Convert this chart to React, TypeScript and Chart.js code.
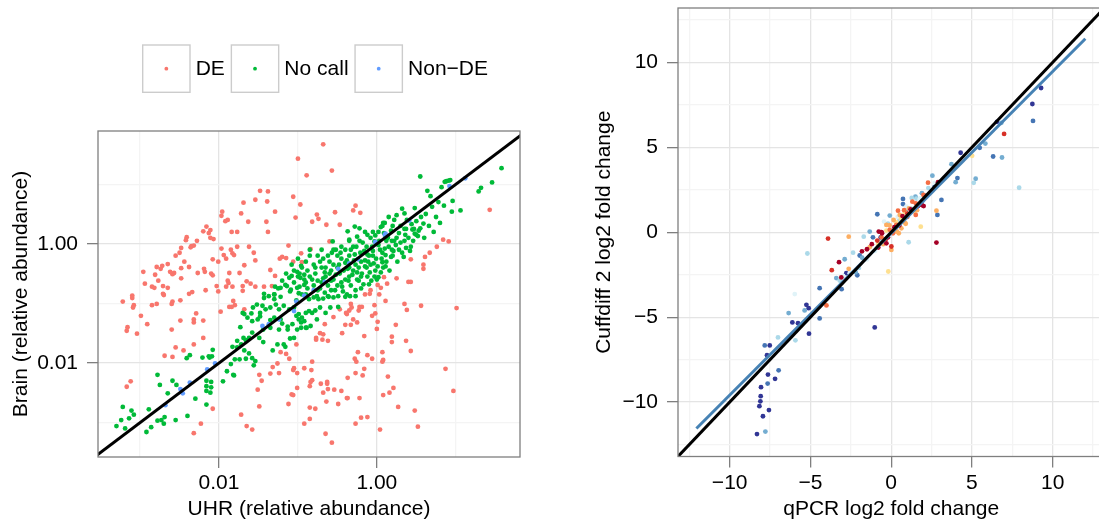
import React, { useEffect, useRef } from "react";
import { Chart, registerables } from "chart.js";

Chart.register(...registerables);

const FONT_FAMILY = "'Liberation Sans', Arial, Helvetica, sans-serif";
const TEXT_SIZE = 21;

// ---------------- Left panel: log10(relative abundance) pairs [UHR, Brain] ----------------
const leftSeriesLabels = ["DE", "No call", "Non\u2212DE"];
const leftSeriesColors = ["#F8766D", "#00BA38", "#619CFF"];

const deLog10: number[][] = [
  [-1.00,1.43],[-0.89,1.15],[-1.48,0.89],[-1.38,0.88],[-1.54,0.74],[-1.69,0.69],[-1.39,0.71],[-1.06,0.79],[-0.97,0.66],[-1.29,0.54],
  [-1.72,0.51],[-1.96,0.54],[-1.97,0.47],[-1.89,0.40],[-1.92,0.38],[-1.63,0.37],[-1.40,0.37],[-1.03,0.44],[-2.16,0.29],[-2.20,0.21],
  [-2.11,0.23],[-2.13,0.18],[-1.84,0.20],[-1.77,0.20],[-1.38,0.20],[-2.41,0.11],[-2.42,0.06],[-2.28,0.05],[-2.11,0.10],[-2.07,0.08],
  [-2.35,-0.04],[-2.32,-0.03],[-2.36,-0.06],[-2.48,-0.07],[-2.50,-0.15],[-2.55,-0.20],[-1.77,-0.05],[-1.62,-0.05],[-1.97,-0.08],[-1.85,-0.10],
  [-1.83,-0.16],[-1.94,-0.19],[-1.81,-0.19],[-1.91,-0.25],[-1.56,-0.15],[-1.54,-0.28],[-1.68,-0.36],[-2.08,-0.26],[-2.01,-0.30],[-1.12,-0.03],
  [-1.20,-0.22],[-1.23,-0.25],[-1.15,-0.24],[-1.06,-0.30],[-0.96,-0.16],[-0.95,-0.31],[-2.44,-0.30],[-2.48,-0.41],[-2.65,-0.34],[-2.72,-0.37],
  [-2.74,-0.42],[-2.79,-0.39],[-2.38,-0.39],[-2.27,-0.49],[-2.19,-0.42],[-2.18,-0.47],[-2.57,-0.49],[-2.59,-0.51],[-2.62,-0.47],[-2.10,-0.50],
  [-2.08,-0.53],[-1.87,-0.49],[-1.74,-0.49],[-2.96,-0.47],[-2.81,-0.52],[-2.77,-0.62],[-2.94,-0.67],[-2.85,-0.72],[-2.82,-0.74],[-2.71,-0.71],
  [-2.65,-0.74],[-2.48,-0.58],[-1.89,-0.62],[-1.88,-0.66],[-2.03,-0.71],[-1.91,-0.72],[-1.83,-0.72],[-1.70,-0.71],[-1.65,-0.63],[-1.60,-0.67],
  [-1.54,-0.72],[-1.43,-0.72],[-1.33,-0.71],[-2.17,-0.78],[-2.34,-0.81],[-2.38,-0.84],[-2.71,-0.84],[-2.01,-0.80],[-1.70,-0.79],[-3.10,-0.87],
  [-1.35,-0.44],[-1.29,-0.54],
  [-0.68,1.67],[-0.57,1.23],[-0.27,0.64],[-0.30,0.56],[-0.21,0.52],[-0.53,0.53],[-0.76,0.49],[-0.74,0.42],[-0.82,0.37],[-0.64,0.32],
  [-0.47,0.32],[-0.60,0.04],[-0.84,-0.09],[1.43,0.57],[0.84,0.07],[0.91,0.04],[0.76,-0.05],[0.67,-0.15],[0.61,-0.22],[0.43,-0.26],
  [0.59,-0.35],[0.59,-0.42],[0.25,-0.58],[0.09,-0.56],[0.01,-0.69],[0.13,-0.67],[0.05,-0.74],[0.40,-0.64],[0.43,-0.64],[-0.08,-0.78],
  [0.03,-0.85],[-0.15,-0.85],[-0.09,-0.84],
  [-3.22,-0.97],[-3.10,-0.91],[-3.08,-1.03],[-3.09,-1.07],[-2.85,-1.03],[-2.79,-1.01],[-2.70,-0.86],[-2.59,-0.97],[-2.60,-1.01],[-2.49,-0.95],
  [-2.99,-1.21],[-3.16,-1.40],[-3.17,-1.46],[-3.04,-1.51],[-2.91,-1.35],[-2.60,-1.44],[-2.49,-1.29],[-2.32,-1.27],[-2.32,-1.32],[-2.20,-1.29],
  [-2.29,-1.17],[-2.20,-1.58],[-2.32,-1.69],[-2.55,-1.74],[-2.45,-1.79],[-2.69,-1.88],[-2.59,-1.90],[-1.98,-1.14],[-1.82,-0.96],[-1.80,-1.03],
  [-1.87,-1.06],[-1.84,-1.06],[-1.68,-1.10],[-3.12,-2.31],[-3.17,-2.40],[-2.08,-2.77],[-2.23,-3.02],[-2.32,-3.18],[-1.72,-2.87],[-1.65,-3.06],
  [-1.58,-3.12],[-1.49,-2.73],[-1.51,-2.45],[-1.46,-2.30],[-1.49,-2.20],[-1.35,-2.18],[-1.32,-2.07],[-1.24,-2.17],[-1.26,-2.01],[-1.22,-1.82],
  [-1.15,-1.85],[-1.11,-1.93],[-1.05,-2.09],[-1.01,-2.17],[-1.06,-2.12],[-0.92,-2.09],[-1.02,-1.69],[-1.08,-2.53],[-1.06,-2.54],[-1.12,-2.69],
  [-1.01,-2.42],[-0.92,-3.02],
  [0.11,-0.96],[0.35,-1.01],[0.38,-1.11],[0.56,-1.04],[1.01,-1.08],[-0.03,-1.03],[-0.02,-1.17],[-0.06,-1.21],[-0.22,-1.06],[-0.19,-1.06],
  [-0.23,-1.12],[-0.33,-1.01],[-0.32,-1.07],[-0.35,-1.12],[-0.38,-1.18],[-0.39,-1.16],[-0.47,-1.10],[-0.55,-1.23],[-0.30,-1.27],[-0.25,-1.32],
  [-0.33,-1.36],[-0.40,-1.36],[-0.66,-1.35],[-0.44,-1.50],[0.01,-1.31],[0.00,-1.43],[0.24,-1.36],[-0.16,-1.55],[-0.72,-1.50],[-0.68,-1.52],
  [-0.77,-1.58],[-0.77,-1.61],[-0.69,-1.61],[-0.62,-1.63],[0.19,-1.56],[0.19,-1.65],[0.37,-1.63],[0.43,-1.80],[-0.24,-1.82],[-0.12,-1.87],
  [-0.06,-1.93],[-0.28,-1.93],[-0.26,-1.98],[0.07,-1.82],[0.08,-1.95],[0.07,-1.98],[-0.82,-1.98],[-0.83,-2.12],[-0.16,-2.10],[-0.27,-2.17],
  [-0.18,-2.21],[-0.37,-2.25],[0.14,-2.23],[-0.82,-2.29],[-0.84,-2.32],[-0.85,-2.39],[-0.71,-2.35],[-0.63,-2.32],[-0.63,-2.35],[-0.68,-2.50],
  [-0.62,-2.44],[-0.54,-2.45],[-0.45,-2.47],[-0.64,-2.65],[-0.49,-2.69],[-0.38,-2.59],[-0.37,-2.59],[-0.22,-2.59],[0.21,-2.42],[0.16,-2.50],
  [0.08,-2.54],[0.27,-2.74],[0.48,-2.80],[-0.85,-2.75],[-0.78,-2.77],[-0.85,-2.94],[-0.20,-2.92],[-0.12,-2.91],[-0.27,-3.02],[0.04,-3.12],
  [0.52,-3.07],[0.87,-2.10],[0.97,-2.47],[-0.65,-3.19],[-0.57,-3.34],
];

const noCallLog10: number[][] = [
  [1.58,1.27],[1.46,1.03],[1.32,0.94],[1.29,0.88],[0.91,1.06],[0.93,1.07],[0.88,1.05],[0.86,1.04],[0.55,1.13],[0.64,0.89],
  [0.96,0.72],[0.85,0.64],[1.06,0.56],[0.95,0.54],[0.32,0.59],[0.35,0.51],[0.08,0.35],[0.07,0.30],[0.59,0.34],[0.55,0.26],
  [0.47,0.25],[0.35,0.25],[0.37,0.25],[0.48,0.17],[0.52,0.13],[0.50,0.15],[0.45,0.24],[0.35,0.05],[0.19,0.05],[0.22,0.05],
  [0.37,-0.07],[0.43,-0.05],[0.34,-0.22],[-0.37,0.21],[-0.28,0.29],[-0.22,0.26],[-0.35,0.07],[-0.56,0.04],[-0.55,-0.10],[-0.02,0.14],
  [-0.03,0.04],[0.11,0.13],[0.19,-0.10],[0.21,-0.12],[0.11,-0.19],[0.07,-0.31],[0.11,-0.38],[0.02,-0.56],
  [-0.96,-0.37],[-1.01,-0.47],[-1.08,-0.54],[-1.11,-0.57],[-0.97,-0.57],[-0.92,-0.52],[-1.16,-0.69],[-1.14,-0.71],[-1.22,-0.74],[-1.29,-0.72],
  [-1.09,-0.77],[-1.01,-0.74],[-0.92,-0.69],[-0.99,-0.83],[-0.90,-0.85],[-1.43,-0.84],[-1.30,-0.85],
  [-0.90,-0.30],[-0.95,-0.40],[-1.00,-0.55],[-1.05,-0.65],[-0.98,-0.72],[-1.10,-0.80],[-1.20,-0.62],[-1.25,-0.75],[-1.30,-0.85],[-1.15,-0.50],
  [-0.92,-0.60],[-0.88,-0.45],[-0.85,-0.20],[-0.80,-0.35],[-0.78,-0.50],[-0.75,-0.62],[-0.72,-0.75],[-0.70,-0.40],[-0.68,-0.25],[-0.65,-0.55],
  [-0.62,-0.70],[-0.60,-0.30],[-0.58,-0.45],[-0.55,-0.60],[-0.53,-0.78],[-0.50,-0.20],[-0.48,-0.35],[-0.47,-0.50],[-0.45,-0.65],[-0.43,-0.80],
  [-0.40,-0.10],[-0.38,-0.28],[-0.37,-0.42],[-0.35,-0.55],[-0.33,-0.70],[-0.30,-0.05],[-0.28,-0.18],[-0.27,-0.35],[-0.25,-0.48],[-0.23,-0.62],
  [-0.20,-0.75],[-0.18,0.02],[-0.16,-0.12],[-0.15,-0.28],[-0.13,-0.40],[-0.12,-0.55],[-0.10,-0.68],[-0.08,0.10],[-0.06,-0.05],[-0.05,-0.20],
  [-0.04,-0.33],[-0.02,-0.45],[0.00,-0.60],[0.02,0.20],[0.04,-0.10],[0.06,-0.25],[0.08,-0.40],[0.12,0.05],[0.15,-0.05],[0.18,0.22],
  [0.20,-0.20],[0.25,0.10],[0.28,-0.10],[-0.70,-0.10],[-0.82,-0.60],[-0.95,-0.85],[-0.62,-0.88],[-0.52,-0.10],[-0.45,-0.05],[-0.35,0.05],
  [-0.25,0.12],[-0.57,-0.15],[-0.66,-0.82],[-0.76,-0.88],[-0.88,-0.75],[-1.02,-0.95],[-0.40,-0.60],[-0.30,-0.45],[-0.20,-0.30],[-0.10,-0.20],
  [-0.50,-0.70],[-0.60,-0.50],[-0.70,-0.65],[-0.80,-0.70],[-0.35,-0.20],[-0.22,0.05],[-0.12,0.15],[0.05,0.28],[0.10,0.35],[-0.05,0.20],
  [-0.15,0.20],[0.22,0.40],[0.30,0.30],[0.15,0.45],[-0.55,-0.35],[-0.45,-0.25],[-0.65,-0.40],[-0.85,-0.10],[-1.00,-0.25],[-1.08,-0.35],
  [-0.75,-0.20],
  [-0.85,-0.55],[-0.78,-0.40],[-0.72,-0.30],[-0.66,-0.48],[-0.62,-0.20],[-0.58,-0.62],[-0.52,-0.52],[-0.50,-0.40],[-0.46,-0.15],[-0.44,-0.72],
  [-0.42,-0.45],[-0.40,-0.32],[-0.38,-0.85],[-0.36,-0.62],[-0.33,-0.10],[-0.31,-0.52],[-0.29,-0.28],[-0.27,-0.78],[-0.25,-0.60],[-0.23,-0.40],
  [-0.21,-0.15],[-0.19,-0.50],[-0.17,-0.68],[-0.15,-0.38],[-0.13,-0.05],[-0.11,-0.30],[-0.09,-0.48],[-0.07,-0.62],[-0.05,-0.12],[-0.03,-0.55],
  [-0.01,-0.25],[0.01,-0.38],[0.03,0.05],[0.05,-0.48],[0.07,-0.15],[0.09,0.18],[0.12,-0.30],[0.14,0.10],[0.16,-0.45],[0.18,-0.22],
  [0.20,0.30],[0.24,-0.02],[0.26,-0.30],[0.28,0.18],[0.30,0.02],[0.32,-0.15],[0.36,0.15],[0.38,0.40],[0.40,0.10],[0.42,-0.12],
  [0.44,0.33],[0.46,0.05],[0.50,0.38],[0.53,0.22],[0.56,0.45],[0.60,0.10],[0.62,0.50],[0.66,0.30],[0.70,0.62],[0.72,0.20],
  [0.75,0.45],[0.78,0.70],[0.80,0.35],[0.68,0.80],[0.82,0.95],[0.48,0.60],[0.25,0.48],[0.02,-0.02],[-0.12,-0.18],[-0.26,-0.05],
  [-0.58,-0.78],[-0.68,-0.58],[-0.75,-0.78],[-0.90,-0.65],[-0.98,-0.50],[-1.05,-0.45],[-0.35,-0.40],[-0.20,-0.55],[-0.08,-0.35],[0.10,-0.08],
  [-0.86,-0.93],[-0.80,-0.90],[-0.74,-0.93],[-0.68,-0.92],[-0.61,-0.89],[-0.55,-0.90],[-0.49,-0.88],[-0.40,-0.89],[-0.34,-0.88],[-0.27,-0.88],
  [-0.86,-1.13],[-0.82,-1.16],[-0.78,-1.12],[-0.72,-1.07],[-0.65,-1.16],[-0.59,-1.07],[-0.49,-1.06],[-0.76,-1.27],[-0.84,-1.38],[-0.89,-1.41],
  [-2.78,-2.20],[-2.75,-2.37],[-2.65,-2.51],[-2.59,-2.30],[-2.54,-2.37],[-3.22,-2.74],[-3.11,-2.80],[-3.08,-2.87],[-3.14,-2.93],[-3.24,-2.96],
  [-3.30,-3.06],[-3.19,-3.10],[-2.89,-2.78],[-2.86,-3.08],[-2.92,-3.16],[-2.78,-2.97],[-2.73,-2.96],[-2.69,-2.91],[-2.70,-3.02],[-2.55,-2.96],
  [-2.40,-2.89],[-2.30,-2.60],[-2.16,-2.30],[-2.10,-2.32],[-2.10,-2.41],[-2.16,-2.39],[-2.16,-2.47],[-2.11,-2.50],[-2.16,-2.70],[-1.95,-2.31],
  [-1.90,-2.14],[-1.82,-2.20],[-1.81,-2.21],[-1.85,-2.02],[-1.80,-1.94],[-1.74,-1.94],[-1.66,-1.93],[-1.58,-1.92],[-1.56,-2.04],[-1.54,-1.97],
  [-1.62,-1.84],[-1.68,-1.79],[-1.77,-1.74],[-1.72,-1.69],[-1.83,-1.73],[-1.77,-1.63],[-1.66,-1.62],[-1.69,-1.58],[-1.62,-1.58],[-2.08,-1.78],
  [-2.09,-1.89],[-2.12,-1.91],[-2.13,-1.89],[-2.21,-1.91],[-2.37,-1.87],[-2.41,-1.92],[-1.73,-1.40],[-1.58,-1.49],[-1.44,-1.44],[-1.44,-1.65],
  [-1.49,-1.58],[-1.32,-1.79],[-1.26,-1.69],[-1.16,-1.73],[-1.18,-1.69],[-1.10,-1.59],[-1.05,-1.58],[-1.01,-1.44],[-0.96,-1.32],[-1.07,-1.35],
  [-1.13,-1.39],[-1.24,-1.44],[-1.35,-1.41],[-1.35,-1.28],[-1.30,-1.24],[-1.22,-1.27],[-1.51,-1.27],[-1.58,-1.30],[-1.64,-1.24],[-1.70,-1.16],
  [-1.68,-1.18],[-1.59,-1.17],[-1.57,-1.07],[-1.52,-1.02],[-1.45,-1.04],[-1.41,-1.10],[-1.35,-1.07],[-1.28,-1.02],[-1.24,-1.10],[-1.18,-1.04],
  [-1.11,-1.10],[-1.05,-1.07],[-0.99,-1.18],[-0.95,-1.24],[-0.90,-1.16],[-1.43,-0.91],[-1.37,-0.88],[-1.30,-0.93],[-1.22,-0.89],[-1.02,-1.21],
  [-0.99,-1.27],[-0.92,-1.30],[-0.96,-1.41],[-0.90,-1.41],[-1.20,-1.34],[-1.13,-1.44],[-1.48,-1.16],[-1.48,-1.22],
];

const nonDeLog10: number[][] = [
  [-2.68,-2.71],[-2.49,-2.44],[-2.46,-2.51],[-2.37,-2.33],[-2.15,-2.11],[-2.05,-2.01],[-1.45,-1.38],[-1.37,-1.35],[-1.24,-1.27],[-1.02,-0.97],
  [-0.92,-0.87],[-1.05,-1.13],[-0.66,-0.64],[-0.49,-0.42],[-0.24,-0.26],[-0.02,0.03],[0.10,0.15],[0.41,0.39],[0.92,0.97],[0.11,0.17],
  [-0.80,-0.78],[-0.35,-0.33],[1.12,1.10],
];

const leftTickDecades = [-3, -2, -1, 0, 1];
const leftTickLabels = ["", "0.01", "", "1.00", ""];
const leftXLog10Range = [-3.534, 1.814];
const leftYLog10Range = [-3.58, 1.894];
const leftIdentityLog10 = [-4, 2];
const leftXTitle = "UHR (relative abundance)";
const leftYTitle = "Brain (relative abundance)";

// ---------------- Right panel: [qPCR log2 FC, Cuffdiff 2 log2 FC] by colour group ----------------
const darkRed = [[2.90,2.95],[1.66,1.54],[2.01,1.54],[2.80,-0.61],[-0.77,0.04],[-0.57,-0.06],[-0.30,-0.65],[-1.50,-1.00],[-1.81,-1.12],[-3.23,-1.76],[-3.09,-2.66],[0.20,0.30],[-0.20,-0.30],[0.50,0.40],[-0.80,-0.90],[-0.60,0.00],[1.90,1.60],[0.70,0.95],[-1.20,-0.70],[1.20,1.35]];
const red = [[-0.32,-0.39],[0.01,-0.84],[-3.68,-2.23],[-3.91,-0.37],[6.99,5.79],[-0.86,-0.49],[1.00,1.10]];
const orange = [[2.28,2.92],[1.31,1.80],[1.52,1.70],[1.52,1.02],[0.42,1.27],[0.32,0.43],[-0.09,0.14],[0.11,-0.06],[-4.01,-4.31],[-0.40,-0.50],[1.00,0.90],[0.80,1.30],[-0.60,-0.30],[2.00,2.20]];
const lightOrange = [[2.80,1.27],[0.53,1.02],[0.15,0.72],[0.84,0.57],[0.63,0.23],[0.47,-0.06],[-0.30,0.43],[-1.33,-0.88],[0.01,-1.04],[-2.63,-0.26],[-2.63,-2.15],[0.90,0.50],[-0.50,-0.70],[0.35,0.05],[1.10,1.40],[0.20,0.10],[-0.10,0.40],[1.60,1.30]];
const yellow = [[1.83,0.33],[1.46,1.21],[0.84,1.19],[-0.18,-2.31],[5.01,4.50],[0.60,0.80],[-0.30,0.10],[0.30,0.60],[-0.80,-0.70]];
const paleBlue = [[1.97,1.80],[1.76,1.90],[0.94,1.50],[-0.44,0.63],[-2.98,-2.57],[-2.57,-2.41],[-5.97,-3.64],[1.80,2.00],[-1.00,-1.10],[0.40,0.90],[2.70,2.90],[0.10,0.20],[-1.50,-1.60],[2.40,2.30]];
const lightBlue = [[1.27,2.02],[1.56,1.98],[1.08,-0.59],[-1.70,-0.26],[-2.36,-1.20],[-5.19,-1.25],[-3.19,-2.84],[5.11,2.91],[7.92,2.62],[-7.01,-6.19],[-5.93,-6.36],[1.20,1.40],[2.30,2.60],[-2.00,-2.10],[-0.60,-0.55],[-0.20,0.50],[0.50,0.70]];
const midBlue = [[3.73,4.01],[2.55,3.33],[3.99,2.95],[-0.09,0.98],[-1.33,0.04],[-2.88,-1.59],[6.82,6.44],[5.83,5.22],[6.86,4.40],[5.23,3.15],[-6.35,-4.76],[-5.36,-4.60],[-7.79,-11.73],[-3.40,-2.70],[1.50,2.10],[-2.20,-2.35],[1.90,2.30],[-1.80,-1.50]];
const blue = [[4.10,3.19],[2.69,2.68],[3.11,1.90],[2.86,1.02],[-0.86,1.06],[0.73,1.96],[0.73,1.66],[-1.13,-0.30],[-1.95,-1.37],[-2.10,-2.53],[-4.43,-3.29],[8.78,6.55],[5.48,4.97],[6.31,4.46],[-4.43,-5.07],[-7.83,-6.66],[-6.97,-8.13],[-7.65,-8.91],[-3.07,-3.35],[0.90,1.20]];
const navy = [[4.30,4.68],[9.28,8.49],[8.74,7.55],[6.55,6.50],[-0.65,-0.31],[-5.25,-4.27],[-5.11,-4.47],[-6.12,-5.31],[-5.77,-5.35],[-5.09,-5.97],[-1.02,-5.60],[-7.52,-6.66],[-7.69,-7.24],[-7.63,-8.38],[-7.19,-8.63],[-8.06,-9.12],[-8.08,-9.65],[-8.10,-9.95],[-8.16,-10.24],[-7.57,-10.47],[-7.94,-10.83],[-8.31,-11.88],[-2.78,-2.41],[2.05,2.15]];

const rightGroups = [darkRed, red, orange, lightOrange, yellow, paleBlue, lightBlue, midBlue, blue, navy];
const rightGroupColors = ["#A50026", "#D73027", "#F46D43", "#FDAE61", "#FEE090", "#E0F3F8", "#ABD9E9", "#74ADD1", "#4575B4", "#313695"];

const rightTickValues = [-12.5, -10, -7.5, -5, -2.5, 0, 2.5, 5, 7.5, 10, 12.5];
const rightTickLabels = ["", "\u221210", "", "\u22125", "", "0", "", "5", "", "10", ""];
const rightRange = [-13.2, 13.2];
const fitLine = [[-12.06, -11.55], [12.02, 11.39]];
const identityLine = [[-14, -14], [14, 14]];
const rightXTitle = "qPCR log2 fold change";
const rightYTitle = "Cuffdiff 2 log2 fold change";

// ---------------- helpers ----------------
const MAJOR_GRID = "#E4E4E4";
const MINOR_GRID = "#F4F4F4";
const TICK_COLOR = "#7F7F7F";
const POINT_RADIUS = 2.4;

function gridOptions(labels: string[]) {
  const isMajor = (c: any) => c && c.index !== undefined && labels[c.index] !== "" && labels[c.index] !== undefined;
  return {
    color: (c: any) => (isMajor(c) ? MAJOR_GRID : MINOR_GRID),
    tickColor: (c: any) => (isMajor(c) ? TICK_COLOR : "rgba(0,0,0,0)"),
    lineWidth: 1.3,
    tickWidth: 1.3,
    tickLength: 11,
    drawTicks: true,
    drawOnChartArea: true,
  };
}

function axisTitle(text: string, padding: any) {
  return {
    display: true,
    text,
    color: "#000",
    font: { family: FONT_FAMILY, size: TEXT_SIZE, lineHeight: 1.2 },
    padding,
  };
}

function tickOpts(labels: string[], padding: number) {
  return {
    color: "#000",
    font: { family: FONT_FAMILY, size: TEXT_SIZE, lineHeight: 1.2 },
    padding,
    autoSkip: false,
    maxRotation: 0,
    minRotation: 0,
    callback: (_v: any, i: number) => labels[i],
  };
}

function fixAxis(size: number, horizontal: boolean) {
  return (axis: any) => {
    if (horizontal) axis.height = size;
    else axis.width = size;
    axis.paddingTop = 0;
    axis.paddingBottom = 0;
    axis.paddingLeft = 0;
    axis.paddingRight = 0;
  };
}

const framePlugin = {
  id: "panelFrame",
  afterDraw(chart: any) {
    const { ctx, chartArea } = chart;
    ctx.save();
    ctx.strokeStyle = "#7F7F7F";
    ctx.lineWidth = 1.3;
    ctx.strokeRect(chartArea.left, chartArea.top, chartArea.right - chartArea.left, chartArea.bottom - chartArea.top);
    ctx.restore();
  },
};

const boxLegendPlugin = {
  id: "boxLegend",
  afterDraw(chart: any, _args: any, opts: any) {
    if (!opts || !opts.display) return;
    const ctx = chart.ctx;
    ctx.save();
    ctx.font = `${TEXT_SIZE}px ${FONT_FAMILY}`;
    ctx.textBaseline = "middle";
    ctx.textAlign = "left";
    let x = opts.x;
    const items = chart.data.datasets.filter((d: any) => d.legendKey);
    for (const d of items) {
      ctx.strokeStyle = "#CCCCCC";
      ctx.lineWidth = 1.4;
      ctx.fillStyle = "#FFFFFF";
      ctx.fillRect(x, opts.y, opts.box, opts.box);
      ctx.strokeRect(x, opts.y, opts.box, opts.box);
      ctx.fillStyle = d.backgroundColor;
      ctx.beginPath();
      ctx.arc(x + opts.box / 2, opts.y + opts.box / 2, 1.9, 0, Math.PI * 2);
      ctx.fill();
      x += opts.box + opts.textGap;
      ctx.fillStyle = "#000";
      ctx.fillText(d.label, x, opts.y + opts.box / 2 + 1);
      x += ctx.measureText(d.label).width + opts.itemGap;
    }
    ctx.restore();
  },
};

function leftConfig(): any {
  const series = [deLog10, noCallLog10, nonDeLog10];
  const pointSets = series.map((s, i) => ({
    label: leftSeriesLabels[i],
    legendKey: true,
    data: s.map(([x, y]) => ({ x: Math.pow(10, x), y: Math.pow(10, y) })),
    backgroundColor: leftSeriesColors[i],
    borderWidth: 0,
    pointRadius: POINT_RADIUS,
    order: 5 - i,
  }));
  const tickValues = leftTickDecades.map((d) => ({ value: Math.pow(10, d) }));
  return {
    type: "scatter",
    data: {
      datasets: [
        ...pointSets,
        {
          label: "identity",
          data: leftIdentityLog10.map((v) => ({ x: Math.pow(10, v), y: Math.pow(10, v) })),
          showLine: true,
          borderColor: "#000",
          borderWidth: 3,
          pointRadius: 0,
          order: 0,
        },
      ],
    },
    options: {
      responsive: false,
      maintainAspectRatio: false,
      animation: false,
      events: [],
      layout: { autoPadding: false, padding: { left: 0, top: 131, right: 40, bottom: 0 } },
      plugins: {
        legend: { display: false },
        tooltip: { enabled: false },
        boxLegend: { display: true, x: 142.7, y: 45, box: 47.3, textGap: 5.7, itemGap: 6.5 },
      },
      scales: {
        x: {
          type: "logarithmic",
          bounds: "data",
          min: Math.pow(10, leftXLog10Range[0]),
          max: Math.pow(10, leftXLog10Range[1]),
          afterBuildTicks: (axis: any) => { axis.ticks = tickValues.map((t) => ({ ...t })); },
          afterFit: fixAxis(68, true),
          grid: gridOptions(leftTickLabels),
          border: { display: false },
          ticks: tickOpts(leftTickLabels, 3),
          title: axisTitle(leftXTitle, { top: 0, bottom: 3.4 }),
        },
        y: {
          type: "logarithmic",
          bounds: "data",
          min: Math.pow(10, leftYLog10Range[0]),
          max: Math.pow(10, leftYLog10Range[1]),
          afterBuildTicks: (axis: any) => { axis.ticks = tickValues.map((t) => ({ ...t })); },
          afterFit: fixAxis(98, false),
          grid: gridOptions(leftTickLabels),
          border: { display: false },
          ticks: tickOpts(leftTickLabels, 9),
          title: axisTitle(leftYTitle, { top: 8.4, bottom: 0 }),
        },
      },
    },
    plugins: [framePlugin, boxLegendPlugin],
  };
}

function rightConfig(): any {
  const pointSets = rightGroups.map((g, i) => ({
    label: rightGroupColors[i],
    data: g.map(([x, y]) => ({ x, y })),
    backgroundColor: rightGroupColors[i],
    borderWidth: 0,
    pointRadius: POINT_RADIUS,
    order: 3 + i,
  }));
  const tickValues = rightTickValues.map((v) => ({ value: v }));
  return {
    type: "scatter",
    data: {
      datasets: [
        ...pointSets,
        {
          label: "fit",
          data: fitLine.map(([x, y]) => ({ x, y })),
          showLine: true,
          borderColor: "#4682B4",
          borderWidth: 3,
          pointRadius: 0,
          order: 1,
        },
        {
          label: "identity",
          data: identityLine.map(([x, y]) => ({ x, y })),
          showLine: true,
          borderColor: "#000",
          borderWidth: 3,
          pointRadius: 0,
          order: 0,
        },
      ],
    },
    options: {
      responsive: false,
      maintainAspectRatio: false,
      animation: false,
      events: [],
      layout: { autoPadding: false, padding: { left: 0, top: 8, right: 15.6, bottom: 0 } },
      plugins: { legend: { display: false }, tooltip: { enabled: false } },
      scales: {
        x: {
          type: "linear",
          bounds: "data",
          min: rightRange[0],
          max: rightRange[1],
          afterBuildTicks: (axis: any) => { axis.ticks = tickValues.map((t) => ({ ...t })); },
          afterFit: fixAxis(68.5, true),
          grid: gridOptions(rightTickLabels),
          border: { display: false },
          ticks: tickOpts(rightTickLabels, 3),
          title: axisTitle(rightXTitle, { top: 0, bottom: 3.4 }),
        },
        y: {
          type: "linear",
          bounds: "data",
          min: rightRange[0],
          max: rightRange[1],
          afterBuildTicks: (axis: any) => { axis.ticks = tickValues.map((t) => ({ ...t })); },
          afterFit: fixAxis(118, false),
          grid: gridOptions(rightTickLabels),
          border: { display: false },
          ticks: tickOpts(rightTickLabels, 9),
          title: axisTitle(rightYTitle, { top: 31.9, bottom: 0 }),
        },
      },
    },
    plugins: [framePlugin],
  };
}

function ChartCanvas(props: { makeConfig: () => any; left: number; width: number }) {
  const ref = useRef<HTMLCanvasElement | null>(null);
  useEffect(() => {
    if (!ref.current) return;
    const chart = new Chart(ref.current, props.makeConfig());
    return () => chart.destroy();
  }, []);
  return (
    <canvas
      ref={ref}
      width={props.width}
      height={525}
      style={{ position: "absolute", left: props.left, top: 0, width: props.width, height: 525 }}
    />
  );
}

export default function App() {
  return (
    <div
      style={{
        position: "fixed",
        left: 0,
        top: 0,
        width: 1099,
        height: 525,
        overflow: "hidden",
        background: "#FFFFFF",
      }}
    >
      <ChartCanvas makeConfig={leftConfig} left={0} width={560} />
      <ChartCanvas makeConfig={rightConfig} left={560} width={560} />
    </div>
  );
}
